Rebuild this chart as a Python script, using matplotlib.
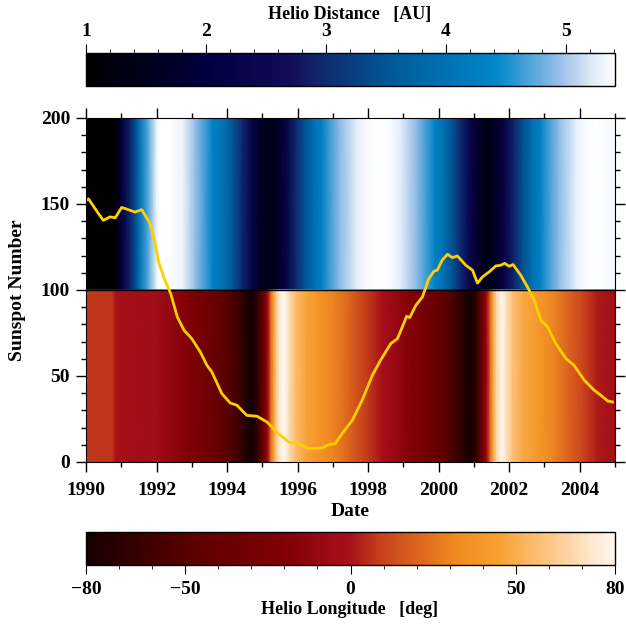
import numpy as np
import matplotlib
matplotlib.use('Agg')
import matplotlib.pyplot as plt
from matplotlib.colors import LinearSegmentedColormap, Normalize
from matplotlib.ticker import MultipleLocator, FixedLocator

plt.rcParams['font.family'] = ['Liberation Serif', 'DejaVu Serif']
plt.rcParams['font.weight'] = 'bold'

# heliocentric distance of the spacecraft [AU]
dist_year = [1990.00, 1990.76, 1990.84, 1991.00, 1991.25, 1991.50, 1991.75, 1992.00, 1992.09,
             1992.35, 1992.75, 1993.09, 1993.59, 1993.94, 1994.19, 1994.44, 1994.69, 1994.94,
             1995.19, 1995.44, 1995.69, 1995.94, 1996.19, 1996.44, 1996.69, 1997.19, 1997.69,
             1997.95, 1998.29, 1998.65, 1998.89, 1999.39, 1999.89, 2000.14, 2000.39, 2000.64,
             2000.89, 2001.14, 2001.39, 2001.64, 2001.89, 2002.14, 2002.39, 2002.64, 2002.89,
             2003.39, 2003.89, 2004.15, 2004.49, 2005.00]
dist_au = [1.00, 1.00, 1.08, 1.90, 2.90, 3.90, 4.70, 5.30, 5.41,
           5.40, 5.30, 4.95, 4.32, 3.93, 3.46, 2.93, 2.31, 1.68,
           1.34, 1.68, 2.31, 2.93, 3.46, 3.93, 4.32, 4.91, 5.27,
           5.36, 5.41, 5.36, 5.27, 4.91, 4.32, 3.93, 3.46, 2.93,
           2.31, 1.68, 1.34, 1.68, 2.31, 2.93, 3.46, 3.93, 4.32,
           4.91, 5.27, 5.36, 5.41, 5.33]

# heliographic latitude of the spacecraft [deg]
lat_year = [1990.00, 1990.74, 1990.84, 1991.00, 1991.50, 1992.00, 1992.11, 1992.50, 1993.00,
            1993.50, 1994.00, 1994.25, 1994.48, 1994.60, 1994.70, 1994.80, 1994.90, 1995.00,
            1995.08, 1995.17, 1995.25, 1995.33, 1995.40, 1995.48, 1995.58, 1995.68, 1995.78,
            1995.95, 1996.25, 1996.60, 1997.00, 1997.50, 1998.00, 1998.40, 1998.80, 1999.20,
            1999.60, 2000.00, 2000.30, 2000.55, 2000.75, 2000.92, 2001.05, 2001.18, 2001.28,
            2001.38, 2001.47, 2001.55, 2001.64, 2001.78, 2001.92, 2002.10, 2002.40, 2002.80,
            2003.25, 2003.70, 2004.10, 2004.50, 2005.00]
lat_deg = [7, 7, 1, -1, -2, -4, -6, -12, -22,
           -33, -48, -58, -70, -77, -80, -75, -62, -45,
           -25, 0, 25, 45, 62, 73, 80, 76, 67,
           56, 46, 38, 30, 19, 8, -1, -10, -19,
           -29, -40, -52, -63, -74, -80, -70, -48, -25,
           0, 25, 48, 66, 80, 70, 58, 48, 40,
           30, 19, 10, 2, -4]

# smoothed sunspot number
ssn_year = [1990.00, 1990.07, 1990.30, 1990.49, 1990.68, 1990.83, 1991.01, 1991.20, 1991.39,
            1991.58, 1991.82, 1991.96, 1992.05, 1992.20, 1992.34, 1992.40, 1992.59, 1992.78,
            1993.00, 1993.24, 1993.43, 1993.57, 1993.85, 1994.09, 1994.28, 1994.56, 1994.85,
            1995.13, 1995.46, 1995.75, 1996.08, 1996.32, 1996.70, 1996.88, 1997.07, 1997.26,
            1997.55, 1997.83, 1998.12, 1998.35, 1998.64, 1998.83, 1998.97, 1999.09, 1999.18,
            1999.35, 1999.54, 1999.72, 1999.87, 1999.96, 2000.10, 2000.25, 2000.39, 2000.53,
            2000.77, 2000.96, 2001.10, 2001.24, 2001.43, 2001.62, 2001.76, 2001.87, 2002.00,
            2002.11, 2002.33, 2002.52, 2002.71, 2002.90, 2003.09, 2003.32, 2003.61, 2003.84,
            2004.13, 2004.41, 2004.60, 2004.79, 2004.93]
ssn = [152, 153, 146, 140.5, 142.5, 142, 148, 146.7, 145.3,
       146.7, 138.6, 127, 117, 107.6, 100.8, 98, 84.3, 76.6,
       71.7, 64, 56.2, 52.3, 39.8, 34.3, 33, 27.1, 26.6,
       23.3, 16.5, 11.6, 10.1, 7.8, 8.1, 10.1, 10.7, 16.5,
       24.2, 35.9, 50.4, 59.1, 68.8, 71.7, 78.5, 84.7, 84,
       91, 96, 106.5, 111, 111.5, 117.3, 120.8, 118.8, 119.8,
       114.4, 111.5, 104, 107.6, 110.5, 114, 114.4, 115.5, 113.8,
       114.8, 108.5, 101.7, 94, 82.4, 78.5, 68.8, 60.1, 56.2,
       47.5, 41.7, 38.8, 35.5, 34.9]

dist_cmap = LinearSegmentedColormap.from_list('dist', [
    (0.00, '#000000'), (0.12, '#00001e'), (0.23, '#000040'), (0.38, '#120a58'),
    (0.45, '#102a70'), (0.58, '#005a98'), (0.78, '#0088cc'), (0.90, '#9cc0e8'),
    (0.96, '#e0ebf8'), (1.00, '#ffffff')])
lon_cmap = LinearSegmentedColormap.from_list('lon', [
    (0.00, '#160000'), (0.19, '#580000'), (0.375, '#800004'), (0.47, '#a00c18'),
    (0.50, '#a81018'), (0.56, '#c8421c'), (0.70, '#f08a20'), (0.78, '#f8a030'),
    (0.88, '#fbc888'), (1.00, '#fff8f0')])
dist_norm = Normalize(1.0, 5.41)
lon_norm = Normalize(-80, 80)

W, H = 626, 629
fig = plt.figure(figsize=(W / 100, H / 100), dpi=100)
ax = fig.add_axes([86/W, 1-462/H, 529/W, 344/H])

dy = np.array(dist_year)
ax.pcolormesh(np.vstack([dy, dy]), np.vstack([np.full(len(dy), 100), np.full(len(dy), 200)]),
              np.vstack([dist_au, dist_au]), cmap=dist_cmap, norm=dist_norm, shading='gouraud')
ly = np.array(lat_year)
ax.pcolormesh(np.vstack([ly, ly]), np.vstack([np.full(len(ly), 0), np.full(len(ly), 100)]),
              np.vstack([lat_deg, lat_deg]), cmap=lon_cmap, norm=lon_norm, shading='gouraud')
ax.axhline(100, color='black', lw=1)
ax.plot(ssn_year, ssn, color='#ffd000', lw=2)

ax.set_xlim(1990, 2005)
ax.set_ylim(0, 200)
ax.xaxis.set_major_locator(FixedLocator([1990, 1992, 1994, 1996, 1998, 2000, 2002, 2004]))
ax.xaxis.set_minor_locator(MultipleLocator(1))
ax.yaxis.set_major_locator(MultipleLocator(50))
ax.yaxis.set_minor_locator(MultipleLocator(10))
ax.tick_params(which='both', direction='out', top=True, right=True, labelsize=14, width=1)
ax.tick_params(which='major', length=7.5, pad=4)
ax.tick_params(axis='x', which='major', pad=7)
ax.tick_params(which='minor', length=3.6)
for lab in ax.get_xticklabels() + ax.get_yticklabels():
    lab.set_fontweight('bold')
fig.text(350/W, 1-511/H, 'Date', fontsize=14, fontweight='bold', ha='center', va='center')
fig.text(18/W, 1-290/H, 'Sunspot Number', fontsize=14, fontweight='bold',
         ha='center', va='center', rotation=90)

# distance colour bar (top)
cax1 = fig.add_axes([86/W, 1-86/H, 529/W, 33/H])
sm1 = plt.cm.ScalarMappable(norm=dist_norm, cmap=dist_cmap)
cb1 = fig.colorbar(sm1, cax=cax1, orientation='horizontal')
cb1.outline.set_linewidth(1)
cax1.xaxis.set_ticks_position('top')
cax1.xaxis.set_major_locator(FixedLocator([1, 2, 3, 4, 5]))
cax1.xaxis.set_minor_locator(MultipleLocator(0.2))
cax1.tick_params(which='major', length=6.5, labelsize=14, direction='out', pad=3)
cax1.tick_params(which='minor', length=3, direction='out')
for lab in cax1.get_xticklabels():
    lab.set_fontweight('bold')
fig.text(350/W, 1-15/H, 'Helio Distance   [AU]', fontsize=13, fontweight='bold',
         ha='center', va='center')

# longitude colour bar (bottom)
cax2 = fig.add_axes([86/W, 1-565/H, 529/W, 33/H])
sm2 = plt.cm.ScalarMappable(norm=lon_norm, cmap=lon_cmap)
cb2 = fig.colorbar(sm2, cax=cax2, orientation='horizontal')
cb2.outline.set_linewidth(1)
cax2.xaxis.set_major_locator(FixedLocator([-80, -50, 0, 50, 80]))
cax2.xaxis.set_minor_locator(MultipleLocator(10))
cax2.tick_params(which='major', length=6.5, labelsize=14, direction='out', pad=5)
cax2.tick_params(which='minor', length=3, direction='out')
cax2.set_xticklabels(['\u221280', '\u221250', '0', '50', '80'])
for lab in cax2.get_xticklabels():
    lab.set_fontweight('bold')
fig.text(350/W, 1-609/H, 'Helio Longitude   [deg]', fontsize=13, fontweight='bold',
         ha='center', va='center')

fig.savefig('out.png', dpi=100)
